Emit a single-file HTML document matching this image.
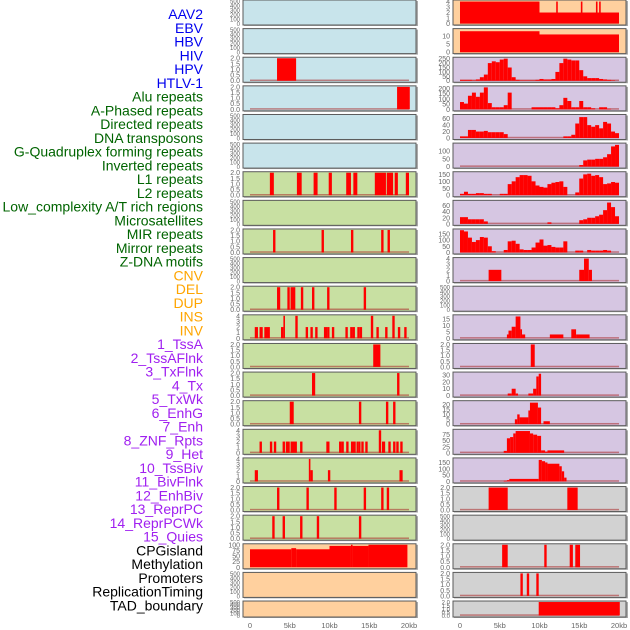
<!DOCTYPE html>
<html><head><meta charset="utf-8">
<style>
body{margin:0;background:#fff;width:630px;height:630px;overflow:hidden;font-family:"Liberation Sans",sans-serif}
svg{position:absolute;left:0;top:0}
</style></head>
<body>
<svg id="chart" width="630" height="630"></svg>
<script>
// ---- track labels ----
const labels = ["AAV2","EBV","HBV","HIV","HPV","HTLV-1","Alu repeats","A-Phased repeats","Directed repeats","DNA transposons","G-Quadruplex forming repeats","Inverted repeats","L1 repeats","L2 repeats","Low_complexity A/T rich regions","Microsatellites","MIR repeats","Mirror repeats","Z-DNA motifs","CNV","DEL","DUP","INS","INV","1_TssA","2_TssAFlnk","3_TxFlnk","4_Tx","5_TxWk","6_EnhG","7_Enh","8_ZNF_Rpts","9_Het","10_TssBiv","11_BivFlnk","12_EnhBiv","13_ReprPC","14_ReprPCWk","15_Quies","CPGisland","Methylation","Promoters","ReplicationTiming","TAD_boundary"];
const labelColors = {virus:"#0000ee",repeat:"#006400",sv:"#ffa500",chrom:"#a020f0",other:"#000"};
const xTicks = [0,5,10,15,20];
const xTickLabels = ["0","5kb","10kb","15kb","20kb"];

// ---- left column: segments [startKb,endKb,value] ----
const leftBg = ["b","b","b","b","b","b","g","g","g","g","g","g","g","g","g","g","g","g","g","p","p","p"];
const leftYmax = [500,500,2,2,500,500,2,500,2,500,2,4,2,2,2,4,4,2,2,100,500,500];
const leftSegs = [
 [],[],
 [[3.4,5.8,2]],
 [[18.5,20.1,2]],
 [],[],
 [[2.5,3.0,2],[5.9,6.5,2],[8.0,8.5,2],[9.9,10.3,2],[12.1,12.7,2],[13.0,13.5,2],[15.7,17.1,2],[17.2,18.0,2],[18.2,18.6,2],[19.6,20.0,2]],
 [],
 [[2.9,3.2,2],[9.0,9.3,2],[12.7,13.0,2],[16.5,16.8,2],[17.3,17.6,2]],
 [],
 [[3.4,3.8,2],[4.7,5.0,2],[5.1,5.7,2],[6.4,6.7,2],[7.8,8.1,2],[9.7,10.0,2],[14.3,14.6,2]],
 [[0.6,1.0,2],[1.2,1.6,2],[1.8,2.2,2],[2.2,2.5,2],[3.9,4.2,2],[4.2,4.4,4],[5.7,6.0,4],[7.0,7.3,2],[7.6,7.9,2],[8.2,8.5,2],[9.3,9.7,2],[9.7,10.0,2],[10.3,10.6,2],[12.0,12.3,2],[12.6,12.9,2],[12.9,13.2,2],[13.5,13.8,2],[13.8,14.1,2],[15.2,15.5,4],[15.9,16.2,2],[17.0,17.3,2],[17.9,18.2,4],[18.6,18.9,2],[19.4,19.7,2]],
 [[15.5,16.4,2]],
 [[7.8,8.2,2],[18.5,18.8,2]],
 [[5.0,5.5,2],[13.7,14.0,2],[17.1,17.4,2],[18.0,18.3,2]],
 [[1.2,1.5,2],[2.5,2.8,2],[3.0,3.3,2],[4.1,4.4,2],[4.5,5.0,2],[5.1,5.9,2],[6.3,6.6,2],[9.6,10.0,2],[11.2,11.5,2],[11.5,11.8,2],[12.1,12.4,2],[12.7,13.3,2],[13.4,13.6,2],[13.6,13.9,2],[14.0,14.3,2],[14.5,14.8,2],[16.2,16.5,4],[16.6,17.0,2],[17.4,17.7,2],[18.0,18.3,2],[18.4,18.7,2],[18.9,19.2,2]],
 [[0.6,1.0,2],[7.4,7.6,4],[7.6,7.9,2],[9.8,10.1,2],[18.8,19.2,2]],
 [[3.4,3.7,2],[7.1,7.4,2],[10.6,10.9,2],[14.3,14.6,2],[16.5,16.8,2],[17.2,17.5,2]],
 [[2.8,3.1,2],[4.1,4.4,2],[6.3,6.6,2],[8.4,8.7,2],[13.7,14.0,2]],
 [[0,5.2,80],[5.2,5.8,85],[5.8,10,80],[10,12.7,95],[12.7,12.9,100],[12.9,14.9,95],[14.9,19.8,100]],
 [],[]
];

// ---- right column ----
const rightBg = ["p","p","v","v","v","v","v","v","v","v","v","v","v","v","v","v","v","y","y","y","y","y"];
const rightYmax = [4.1,14,255,215,70,145,162,74,182,4,500,17.5,2,33,23,93,178,2,500,2,2,2];
// binned histograms (40 bins of 0.5kb), null = use segments
const rightBins = [
 null,null,
 [10,10,10,5,15,40,70,200,220,210,240,250,150,40,10,5,5,5,5,10,20,15,15,20,100,200,250,240,230,230,120,50,30,30,30,20,15,10,5,0],
 [70,55,130,160,120,160,210,60,20,20,20,40,160,0,0,0,0,0,20,20,20,20,20,20,10,40,110,80,20,20,80,20,20,10,0,20,20,5,0,0],
 [5,5,25,25,20,20,22,18,18,18,18,12,0,0,0,0,0,0,0,0,0,0,0,0,0,0,5,5,10,45,65,65,40,35,40,30,50,45,20,15],
 [0,0,0,0,0,0,0,0,0,0,0,0,0,0,0,0,0,0,0,0,0,0,0,0,0,0,0,0,0,0,10,40,45,45,50,50,60,80,130,140],
 [10,25,10,10,15,15,10,10,0,0,10,10,80,100,130,145,145,140,100,70,60,55,80,90,95,100,60,0,0,20,120,150,155,140,145,130,80,85,95,90],
 [22,22,15,15,15,15,8,0,0,0,0,0,0,0,0,0,0,0,0,0,0,0,5,0,0,0,0,0,0,0,12,15,20,20,25,30,45,70,55,25],
 [180,170,120,85,100,125,120,50,10,0,0,20,90,95,70,25,20,20,40,80,105,55,60,45,40,40,90,0,0,15,15,0,20,15,15,15,20,15,0,0],
 null,null,null,null,null,null,null,null,null,null,null,null,null
];
const rightSegs = [
 [[0,10,4],[10,20,2],[12.1,12.3,4],[15.2,15.4,4],[17.1,17.3,4],[17.5,17.7,4]],
 [[0,10,13],[10,20,11]],
 [],[],[],[],[],[],[],
 [[3.6,5.2,2],[15.0,15.6,2],[15.6,16.2,4],[16.2,16.6,2]],
 [],
 [[5.9,6.1,3],[6.1,6.5,6],[6.5,7.0,9],[7.0,7.6,17],[7.6,7.8,7],[7.8,8.2,3],[11.3,13.0,3],[14.0,14.6,7],[14.6,16.3,3]],
 [[8.9,9.4,2]],
 [[6.0,6.5,3],[6.5,7.0,10],[7.0,7.3,3],[8.6,9.2,3],[9.2,9.6,10],[9.6,9.9,28],[9.9,10.2,32]],
 [[6.9,7.2,5],[7.2,7.5,10],[7.5,8.6,7],[8.6,8.8,14],[8.8,9.8,22],[9.8,10.2,17],[10.5,11.3,3]],
 [[5.5,5.9,8],[5.9,6.3,60],[6.3,6.7,65],[6.7,7.0,80],[7.0,8.8,90],[8.8,9.2,80],[9.2,9.7,75],[9.7,10.2,70],[10.2,10.7,10],[10.7,11.0,5],[11.0,13.1,10]],
 [[5.5,5.9,5],[5.9,6.2,10],[6.2,9.9,20],[9.9,10.3,170],[10.3,10.7,160],[10.7,11.0,150],[11.0,12.5,140],[12.5,12.8,120],[12.8,13.1,80],[13.1,13.4,30]],
 [[3.6,6.0,2],[13.5,14.8,2]],
 [],
 [[5.3,6.0,2],[10.6,10.9,2],[13.8,14.2,2],[14.5,15.1,2]],
 [[7.6,7.9,2],[8.4,8.7,2],[9.6,9.9,2]],
 [[9.9,20.1,2]]
];

const bgColors = {b:"#c8e4eb",g:"#c8e0a2",p:"#ffd09e",v:"#d6c6e2",y:"#d2d2d2"};
const NS = "http://www.w3.org/2000/svg";
const svg = document.getElementById("chart");
function mk(tag, attrs, parent){const e=document.createElementNS(NS,tag);for(const k in attrs)e.setAttribute(k,attrs[k]);(parent||svg).appendChild(e);return e;}

// labels
const groupOf = i => i<6?"virus":i<19?"repeat":i<24?"sv":i<39?"chrom":"other";
labels.forEach((t,i)=>{
  const el = mk("text",{x:203,y:19+i*13.75,"text-anchor":"end","font-size":"14",fill:labelColors[groupOf(i)],"font-family":"Liberation Sans, sans-serif"});
  el.textContent = t;
  
  
});

function ticksFor(ymax){
  if(ymax===500) return [0,100,200,300,400,500];
  if(ymax<=2) return [0,0.5,1,1.5,2];
  if(ymax<=4.5) return [0,1,2,3,4];
  if(ymax<=15) return [0,5,10];
  if(ymax<=18) return [0,5,10,15];
  if(ymax<=25) return [0,5,10,15,20];
  if(ymax<=35) return [0,10,20,30];
  if(ymax<=75) return [0,20,40,60];
  if(ymax<=100) return ymax>95?[0,25,50,75,100]:[0,25,50,75];
  if(ymax<=150) return [0,50,100];
  if(ymax<=200) return [0,50,100,150];
  if(ymax<=220) return [0,50,100,150,200];
  return [0,50,100,150,200,250];
}

function drawPanel(col,row,bg,ymax,segs,bins){
  const px = col===0?243:453, x0 = col===0?250:460, kb = 7.95;
  const top = row*28.62, h = row===21?16:25;
  const g = mk("g",{});
  
  
  mk("rect",{x:px+1,y:top+1,width:174,height:h,fill:"#aaa"},g);
  mk("rect",{x:px,y:top,width:173,height:h,fill:bgColors[bg],stroke:"#5a5a5a","stroke-width":1},g);
  const yb = top+h-1.5, yt = top+1, ys = v => yb-(yb-yt)*v/ymax;
  const xs = k => x0+kb*k;
  const tk = ticksFor(ymax);
  tk.forEach(v=>{
    const t = mk("text",{x:px-3,y:ys(v)+2.5,"text-anchor":"end","font-size":(ymax===500||row===21)?"6":"7",fill:"#666"},g);
    t.textContent = (ymax<=2)? v.toFixed(1) : String(v);
    
    
  });
  let all = segs.slice();
  if(bins) bins.forEach((v,i)=>{ if(v>0) all.push([i*0.5,i*0.5+0.5,v]); });
  if(ymax!==500 && !(col===0&&row===19)){
    const l = mk("rect",{x:xs(0),y:yb-1.2,width:kb*20,height:1.5,fill:"rgba(170,40,40,0.55)"},g);
    
    
  }
  all.forEach(s=>{
    const r = mk("rect",{x:xs(s[0]),y:ys(s[2]),width:Math.max(0.8,xs(s[1])-xs(s[0])),height:yb-ys(s[2]),fill:"#ff0000"},g);
    
    
  });
}

for(let r=0;r<22;r++){
  drawPanel(0,r,leftBg[r],leftYmax[r],leftSegs[r],null);
  drawPanel(1,r,rightBg[r],rightYmax[r],rightSegs[r],rightBins[r]);
}

// x axes
[250,460].forEach((x0,c)=>{
  xTicks.forEach((k,i)=>{
    const t = mk("text",{x:x0+7.95*k,y:628,"text-anchor":"middle","font-size":"7.5",fill:"#666"});
    t.textContent = xTickLabels[i];
    
    
  });
});
</script>
</body></html>
